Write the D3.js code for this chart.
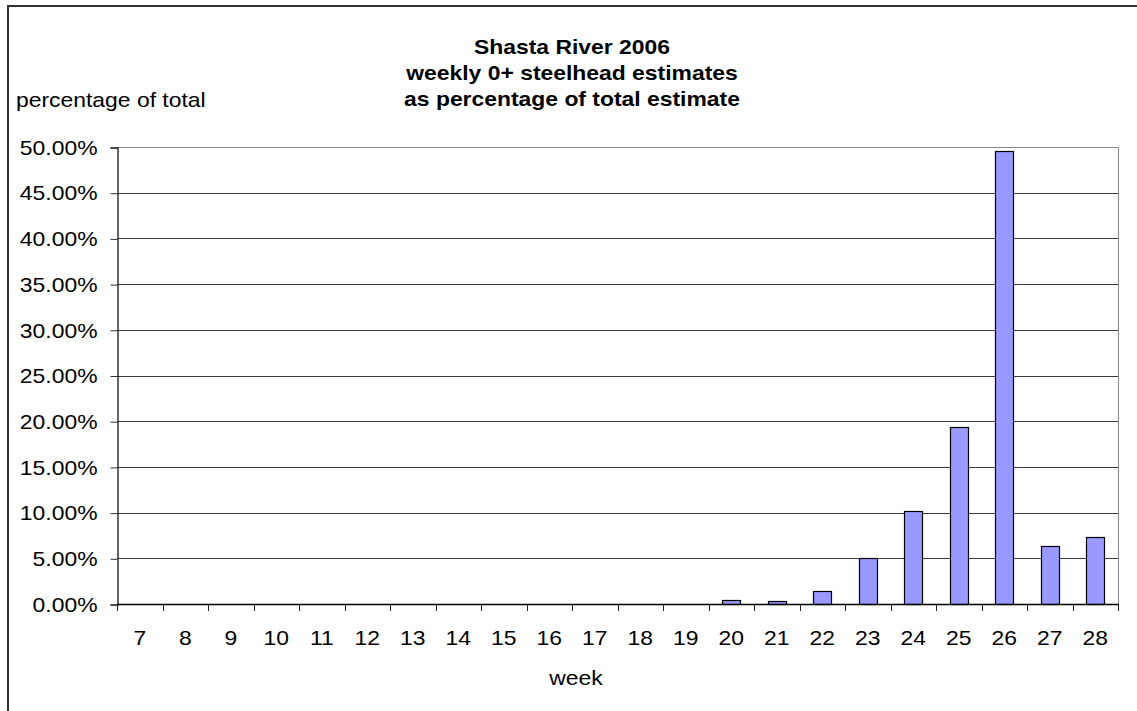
<!DOCTYPE html>
<html lang="en">
<head>
    <meta charset="UTF-8">
    <title>Shasta River 2006</title>
    <script src="https://d3js.org/d3.v7.min.js"></script>
    <style>
        body { margin: 0; background: #fff; }
        text { font-family: "Liberation Sans", Arial, sans-serif; fill: #000; }
    </style>
</head>
<body>
    <div id="chart"></div>
    <script>
        // weeks and their share of the total estimate (fraction)
        const weeks = [7, 8, 9, 10, 11, 12, 13, 14, 15, 16, 17, 18, 19, 20, 21, 22, 23, 24, 25, 26, 27, 28];
        const pct = [0, 0, 0, 0, 0, 0, 0, 0, 0, 0, 0, 0, 0,
            0.0040, 0.0028, 0.0145, 0.0500, 0.1020, 0.1937, 0.4960, 0.0630, 0.0735];
        const yTicks = [0, 0.05, 0.10, 0.15, 0.20, 0.25, 0.30, 0.35, 0.40, 0.45, 0.50];
        const titleLines = ["Shasta River 2006", "weekly 0+ steelhead estimates", "as percentage of total estimate"];

        const W = 1137, H = 711;
        const plot = {left: 117, right: 1118, top: 147, bottom: 604};
        const fs = "21px";
        const stretch = 1.09; // the original text is a little wider than Arial

        const svg = d3.select("#chart").append("svg")
            .attr("width", W)
            .attr("height", H);

        // chart area border (runs off the right and bottom edges)
        svg.append("rect")
            .attr("x", 8).attr("y", 6)
            .attr("width", 1150).attr("height", 730)
            .attr("fill", "#fff")
            .attr("stroke", "#333")
            .attr("stroke-width", 2);

        const x = d3.scaleBand()
            .domain(weeks)
            .range([plot.left, plot.right])
            .paddingInner(0.6)
            .paddingOuter(0.3);
        const xCat = d3.scaleBand()
            .domain(weeks)
            .range([plot.left, plot.right]);

        const y = d3.scaleLinear()
            .domain([0, 0.5])
            .range([plot.bottom, plot.top]);

        // gridlines
        svg.append("g")
            .selectAll("line")
            .data(yTicks.slice(1, -1))
            .enter().append("line")
            .attr("x1", plot.left).attr("x2", plot.right)
            .attr("y1", d => Math.round(y(d)) + 0.5)
            .attr("y2", d => Math.round(y(d)) + 0.5)
            .attr("stroke", "#3a3a3a");

        // plot area border top / right
        svg.append("path")
            .attr("d", `M${plot.left},${plot.top + 0.5}H${plot.right + 0.5}V${plot.bottom}`)
            .attr("fill", "none")
            .attr("stroke", "#888");

        // bars
        svg.append("g")
            .selectAll("rect")
            .data(weeks.map((w, i) => ({week: w, v: pct[i]})).filter(d => d.v > 0))
            .enter().append("rect")
            .attr("x", d => Math.round(x(d.week)) + 0.5)
            .attr("y", d => Math.round(y(d.v)) + 0.5)
            .attr("width", Math.round(x.bandwidth()))
            .attr("height", d => Math.round(y(0)) - Math.round(y(d.v)))
            .attr("fill", "#9999ff")
            .attr("stroke", "#000")
            .attr("stroke-width", 1.2);

        // y axis
        const yAxis = svg.append("g")
            .attr("transform", `translate(${plot.left + 0.5},0.5)`)
            .call(d3.axisLeft(y)
                .tickValues(yTicks)
                .tickFormat(d => (d * 100).toFixed(2) + "%")
                .tickSize(7)
                .tickPadding(13));
        yAxis.select(".domain").attr("stroke", "#333").attr("stroke-width", 1.5);
        yAxis.selectAll(".tick line").attr("stroke", "#333");
        yAxis.selectAll("text")
            .style("font-size", fs)
            .style("font-family", "Liberation Sans, Arial, sans-serif");

        // x axis: labels centred on categories, ticks between categories
        const xAxis = svg.append("g")
            .attr("transform", `translate(0,${plot.bottom + 0.5})`)
            .call(d3.axisBottom(xCat).tickSize(0).tickPadding(26));
        xAxis.select(".domain").remove();
        xAxis.selectAll("text")
            .style("font-size", fs)
            .style("font-family", "Liberation Sans, Arial, sans-serif");

        svg.append("line")
            .attr("x1", plot.left).attr("x2", plot.right + 1)
            .attr("y1", plot.bottom + 0.5).attr("y2", plot.bottom + 0.5)
            .attr("stroke", "#000").attr("stroke-width", 1.5);

        const bounds = weeks.map(w => xCat(w)).concat([plot.right]);
        svg.append("g")
            .selectAll("line")
            .data(bounds)
            .enter().append("line")
            .attr("x1", d => Math.round(d) + 0.5).attr("x2", d => Math.round(d) + 0.5)
            .attr("y1", plot.bottom).attr("y2", plot.bottom + 7)
            .attr("stroke", "#222");

        // titles
        svg.append("g")
            .selectAll("text")
            .data(titleLines)
            .enter().append("text")
            .attr("x", 572)
            .attr("y", (d, i) => 54 + i * 26)
            .attr("text-anchor", "middle")
            .style("font-size", fs)
            .style("font-weight", "bold")
            .text(d => d);

        svg.append("text")
            .attr("x", 16).attr("y", 107)
            .style("font-size", fs)
            .text("percentage of total");

        svg.append("text")
            .attr("x", 576).attr("y", 685)
            .attr("text-anchor", "middle")
            .style("font-size", fs)
            .text("week");

        // widen every label a touch
        svg.selectAll("text").each(function () {
            const len = this.getComputedTextLength();
            d3.select(this)
                .attr("textLength", len * stretch)
                .attr("lengthAdjust", "spacingAndGlyphs");
        });
    </script>
</body>
</html>
